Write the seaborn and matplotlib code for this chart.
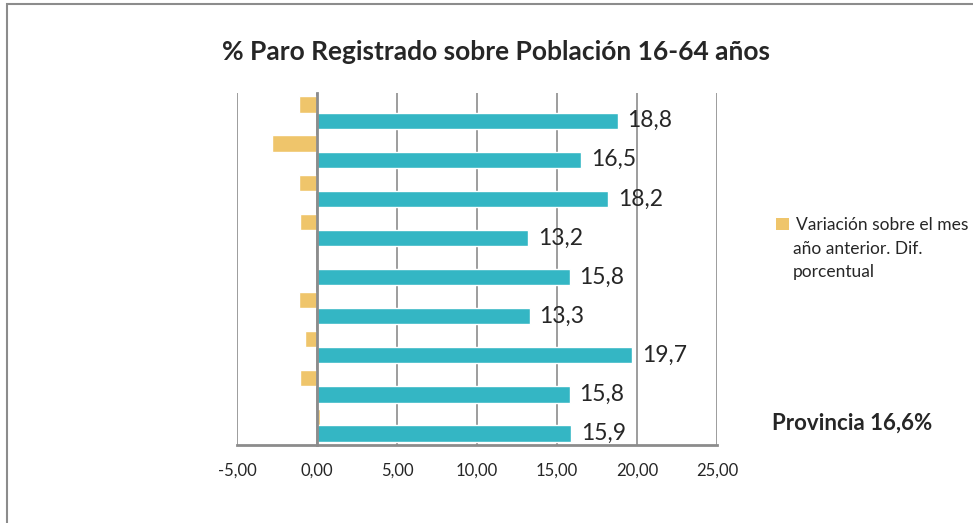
import numpy as np
import pandas as pd
import matplotlib
matplotlib.use("Agg")
import matplotlib.pyplot as plt
import seaborn as sns
from matplotlib.patches import Patch, Rectangle
from matplotlib.ticker import FuncFormatter

# DATOS (de arriba a abajo)
zonas = ["Zona 1", "Zona 2", "Zona 3", "Zona 4", "Zona 5",
         "Zona 6", "Zona 7", "Zona 8", "Zona 9"]
paro = [18.8, 16.5, 18.2, 13.2, 15.8, 13.3, 19.7, 15.8, 15.9]
variacion = [-1.15, -2.8, -1.1, -1.05, 0.0, -1.1, -0.75, -1.05, 0.2]
serie_var = "Variación sobre el mes"
serie_var_resto = ["año anterior. Dif.", "porcentual"]
serie_paro = "% Paro registrado"
titulo = "% Paro Registrado sobre Población 16-64 años"
nota = "Provincia 16,6%"

naranja = "#EFC56B"
turquesa = "#34B6C4"
gris = "#8c8c8c"

df = pd.concat([
    pd.DataFrame({"zona": zonas, "serie": serie_var, "valor": variacion}),
    pd.DataFrame({"zona": zonas, "serie": serie_paro, "valor": paro}),
])

sns.set_style("white")
plt.rcParams["font.family"] = ["Lato", "DejaVu Sans"]

fig = plt.figure(figsize=(9.73, 5.23), dpi=100)
ax = fig.add_axes([237 / 973, 1 - 445 / 523, 480 / 973, 352 / 523])

sns.barplot(
    data=df, y="zona", x="valor", hue="serie",
    hue_order=[serie_var, serie_paro],
    palette=[naranja, turquesa],
    orient="h", width=0.83, saturation=1,
    errorbar=None, legend=False, ax=ax
)

ax.set_xlim(-5, 25)
ax.set_ylim(8.5, -0.5)
ax.set_xticks(np.arange(-5, 26, 5))
ax.xaxis.set_major_formatter(FuncFormatter(lambda v, p: f"{v:.2f}".replace(".", ",")))
ax.set_yticks(np.arange(-0.5, 9, 1), labels=[""] * 10)
ax.set_xlabel("")
ax.set_ylabel("")

ax.xaxis.grid(True, color=gris, lw=1.2)
ax.set_axisbelow(True)

for s in ["top", "right"]:
    ax.spines[s].set_visible(False)
ax.spines["left"].set_position(("data", 0))
ax.spines["left"].set_color(gris)
ax.spines["left"].set_linewidth(2)
ax.spines["left"].set_zorder(5)
ax.spines["bottom"].set_color(gris)
ax.spines["bottom"].set_linewidth(2)

ax.tick_params(axis="x", length=6, width=1.5, color=gris, labelsize=12, pad=7)
ax.tick_params(axis="y", length=5, width=1.5, color=gris, direction="out")

etiquetas = [f"{v:.1f}".replace(".", ",") for v in paro]
ax.bar_label(ax.containers[1], labels=etiquetas, padding=7, fontsize=16.5)

fig.text(496 / 973, 1 - 52 / 523, titulo, ha="center", va="center",
         fontsize=19, fontweight="bold")
fig.text(772 / 973, 1 - 423 / 523, nota, ha="left", va="center",
         fontsize=16, fontweight="bold")

# leyenda: solo la serie de variación
leg = fig.legend(
    handles=[Patch(facecolor=naranja, edgecolor="none")], labels=[serie_var],
    loc="center left", bbox_to_anchor=(776 / 973, 1 - 225 / 523),
    frameon=False, fontsize=12.5, handlelength=0.75, handleheight=0.75,
    handletextpad=0.4, borderpad=0, borderaxespad=0
)
for i, linea in enumerate(serie_var_resto):
    fig.text(793 / 973, 1 - (249 + 23 * i) / 523, linea,
             ha="left", va="center", fontsize=12.5)

fig.add_artist(Rectangle((7 / 973, -0.2), 1.5, 1.2 - 4 / 523,
                         transform=fig.transFigure, fill=False,
                         edgecolor=gris, lw=1.5))

fig.savefig("out.png", dpi=100)
